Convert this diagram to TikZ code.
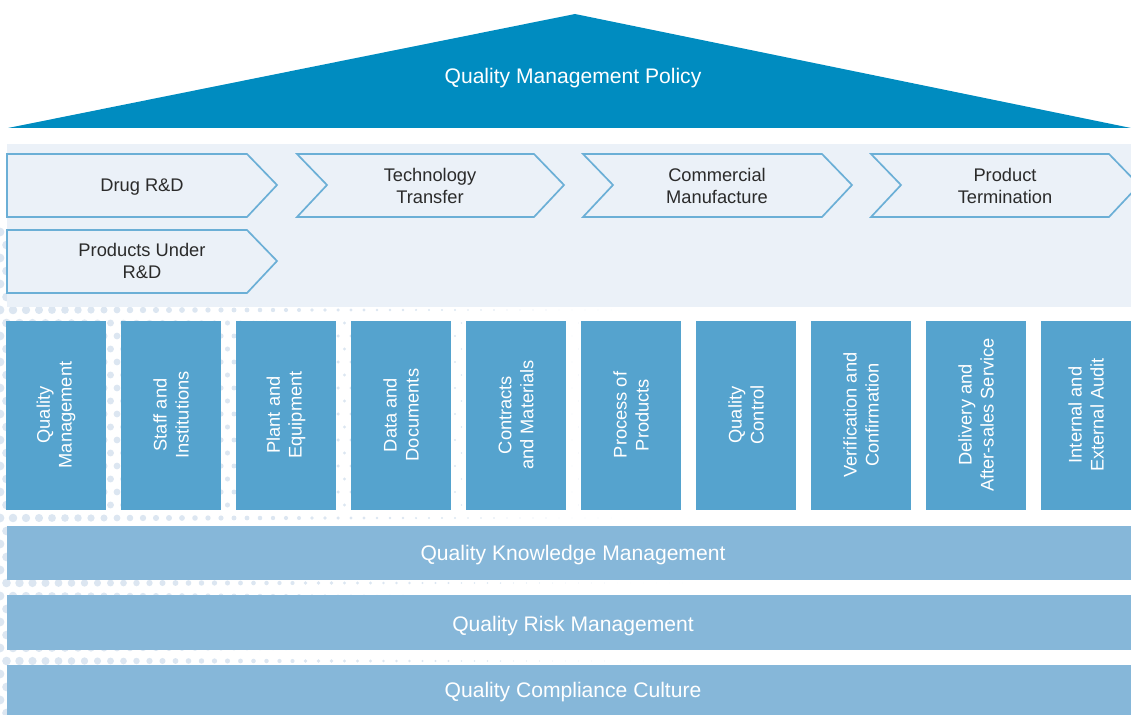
\documentclass[tikz,border=0pt]{standalone}
\usepackage{fontspec}
\setmainfont{Liberation Sans}
\definecolor{roofblue}{HTML}{008CC0}
\definecolor{pillarblue}{HTML}{55A3CE}
\definecolor{barblue}{HTML}{86B7D9}
\definecolor{panelgray}{HTML}{EBF1F8}
\definecolor{chevline}{HTML}{6BAFD6}
\definecolor{dotgray}{HTML}{DCE6F1}
\definecolor{labelgray}{HTML}{2B2B2B}
\begin{document}
\begin{tikzpicture}[x=0.025cm,y=-0.025cm]

    \tikzset{
      bigtext/.style={
        text=white,
        font=\fontsize{15}{18}\selectfont,
      },
      chevtext/.style={
        text=labelgray,
        align=center,
        font=\fontsize{13}{15.6}\selectfont,
      },
      pillartext/.style={
        text=white,
        align=center,
        rotate=90,
        font=\fontsize{13}{15.6}\selectfont,
      },
      chevron/.style={
        fill=panelgray,
        draw=chevline,
        line width=1.2pt,
        line join=miter,
      },
    }
    \useasboundingbox (0,0) rectangle (1131,715);
    \clip (0,0) rectangle (1131,715);

	% dotted backdrop
	\foreach \i in {0,...,53} {
	  \foreach \j in {0,...,37} {
	    \pgfmathsetmacro\px{13*\i+6.5*mod(\j,2)}
	    \pgfmathsetmacro\py{232+13*\j}
	    \pgfmathsetmacro\r{4.4*(1-\px/700)^1.4}
	    \fill[dotgray] (\px,\py) circle[radius=\r];
	  }
	}

	% roof
	\fill[roofblue] (8,128)--(575,14)--(1131,128)--cycle;
	\node[bigtext] (policy) at (573,78) {Quality Management Policy};

	% stages panel
	\fill[panelgray] (7,144) rectangle (1131,307);
	\draw[chevron] (7,154)--(247,154)--(277,185)--(247,217)--(7,217)--cycle;
	\draw[chevron] (297,154)--(534,154)--(564,185)--(534,217)--(297,217)--(327,185)--cycle;
	\draw[chevron] (583,154)--(822,154)--(852,185)--(822,217)--(583,217)--(613,185)--cycle;
	\draw[chevron] (871,154)--(1109,154)--(1139,185)--(1109,217)--(871,217)--(901,185)--cycle;
	\draw[chevron] (7,230)--(247,230)--(277,261)--(247,293)--(7,293)--cycle;
	\node[chevtext] (drugrd) at (142,187) {Drug R\&D};
	\node[chevtext] (techtransfer) at (430,186) {Technology\\Transfer};
	\node[chevtext] (commercial) at (717,186) {Commercial\\Manufacture};
	\node[chevtext] (termination) at (1005,186) {Product\\Termination};
	\node[chevtext] (underrd) at (142,261) {Products Under\\R\&D};

	% pillars
	\foreach \k/\name/\txt in {
	    0/qm/{Quality\\Management},
	    1/staff/{Staff and\\Institutions},
	    2/plant/{Plant and\\Equipment},
	    3/data/{Data and\\Documents},
	    4/contracts/{Contracts\\and Materials},
	    5/process/{Process of\\Products},
	    6/qc/{Quality\\Control},
	    7/verify/{Verification and\\Confirmation},
	    8/delivery/{Delivery and\\After-sales Service},
	    9/audit/{Internal and\\External Audit}} {
	  \pgfmathsetmacro\xl{6+115*\k}
	  \fill[pillarblue] (\xl,321) rectangle ++(100,189);
	  \pgfmathsetmacro\xc{min(\xl+50,1086)}
	  \node[pillartext] (\name) at (\xc,415) {\txt};
	}

	% foundation bars
	\fill[barblue] (7,526) rectangle (1131,580);
	\fill[barblue] (7,595) rectangle (1131,650);
	\fill[barblue] (7,665) rectangle (1131,715);
	\node[bigtext] (knowledge) at (573,555) {Quality Knowledge Management};
	\node[bigtext] (risk) at (573,626) {Quality Risk Management};
	\node[bigtext] (culture) at (573,692) {Quality Compliance Culture};

\end{tikzpicture}
\end{document}
